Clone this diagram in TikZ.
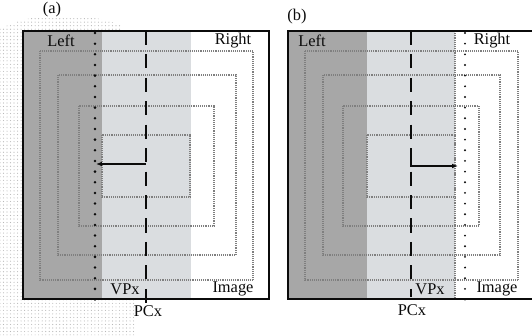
\documentclass[tikz,border=0pt]{standalone}
\usepackage{fontspec}
\setmainfont{Liberation Serif}
\usetikzlibrary{arrows.meta,patterns}
\definecolor{cdark}{HTML}{a7a7a7}
\definecolor{clight}{HTML}{dadde0}
\definecolor{cframe}{HTML}{7f7f7f}
\definecolor{cink}{HTML}{0b0b0b}

\begin{document}
\begin{tikzpicture}[x=0.03cm, y=-0.03cm,
    every node/.style={font=\fontsize{14}{16}\selectfont, text=cink, inner sep=0pt},
    frame/.style={cframe, line width=0.9pt, dash pattern=on 0.8pt off 0.8pt},
    vpline/.style={cink, line width=2.4pt, line cap=round, dash pattern=on 0pt off 9.1pt},
    pcline/.style={cink, line width=1.5pt, dash pattern=on 12pt off 8pt},
    border/.style={cink, line width=1.3pt},
    shiftarrow/.style={cink, line width=1.3pt, -{Latex[length=5pt,width=4pt]}}]
      \useasboundingbox (0,0) rectangle (532,335);
      \clip (0,0) rectangle (532,335);
      % scan speckle round panel (a)
      \fill[pattern=dots, pattern color=black!28] (0,28) -- (12,24) .. controls (30,13) and (100,13) .. (122,26)
        -- (122,31) -- (23,31) -- (23,299) -- (135,299) -- (135,335) -- (0,335) -- cycle;
      % panel (a)
      \fill[white] (23,31) rectangle (269,299);
      \fill[cdark] (23,31) rectangle (102,299);
      \fill[clight] (102,31) rectangle (191,299);
      \foreach \l/\t/\r/\b in {40/51/253/280, 58/75/236/255, 79/106/214/226, 102/135/190/197}
        \draw[frame] (\l,\t) rectangle (\r,\b);
      \draw[border] (23,31) rectangle (269,299);
      \draw[vpline] (95,33) -- (95,306);
      \draw[pcline] (146,31) -- (146,308);
      \coordinate (pca) at (146,164);
      \coordinate (vpa) at (96,164);
      \draw[shiftarrow] (pca) -- (vpa);
      \node (taga) at (52,10) {(a)};
      \node (lefta) at (61,41) {Left};
      \node (righta) at (233,41) {Right};
      \node (vpxa) at (125,289) {VPx};
      \node (imagea) at (233,289) {Image};
      \node (pcxa) at (148,311) {PCx};
      % panel (b)
      \fill[white] (288,31) rectangle (540,299);
      \fill[cdark] (288,31) rectangle (367,299);
      \fill[clight] (367,31) rectangle (455,299);
      \foreach \l/\t/\r/\b in {305/51/518/280, 323/75/500/255, 343/106/479/226, 367/135/455/197}
        \draw[frame] (\l,\t) rectangle (\r,\b);
      \draw[frame] (455,31) -- (455,299);
      \draw[border] (540,31) -- (288,31) -- (288,299) -- (540,299);
      \draw[vpline, line width=1.8pt] (465,33) -- (465,306);
      \draw[pcline] (411,31) -- (411,297);
      \coordinate (pcb) at (411,151);
      \coordinate (bendb) at (411,166);
      \coordinate (vpb) at (458,166);
      \draw[shiftarrow] (pcb) -- (bendb) -- (vpb);
      \node (tagb) at (297,17) {(b)};
      \node (leftb) at (312,41) {Left};
      \node (rightb) at (492,41) {Right};
      \node (vpxb) at (430,289) {VPx};
      \node (imageb) at (497,289) {Image};
      \node (pcxb) at (412,310) {PCx};
    \end{tikzpicture}
\end{document}
